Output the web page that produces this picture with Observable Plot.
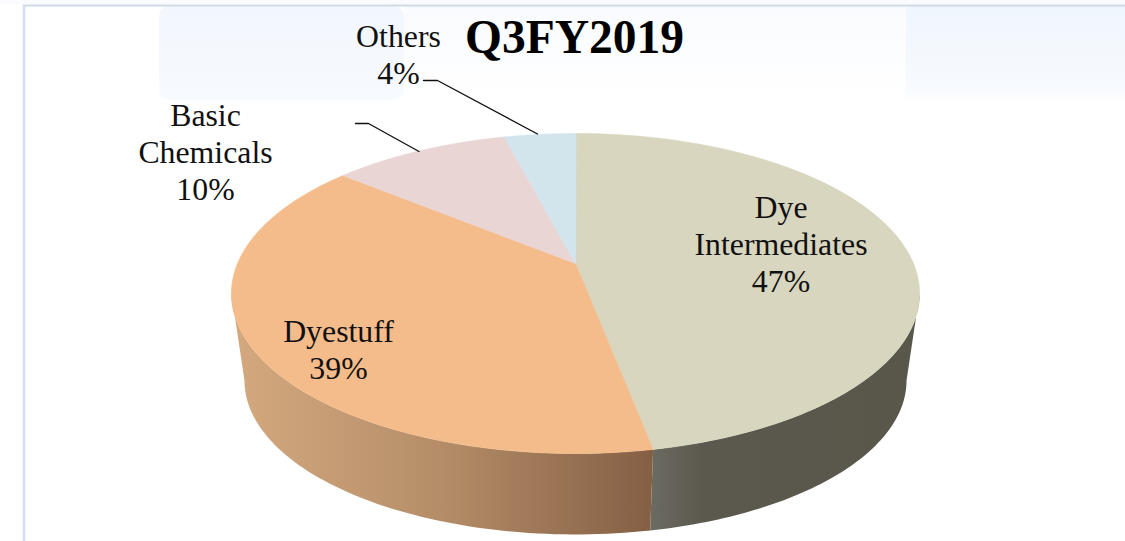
<!DOCTYPE html>
<html>
<head>
<meta charset="utf-8">
<script src="https://cdn.jsdelivr.net/npm/d3@7"></script>
<script src="https://cdn.jsdelivr.net/npm/@observablehq/plot@0.6"></script>
<style>
  html, body { margin: 0; padding: 0; background: #fff; overflow: hidden; }
  svg { display: block; }
</style>
</head>
<body>
<div id="chart"></div>
<script>
// ---- chart values ----
const chartTitle = "Q3FY2019";
const categories = ["Dye Intermediates", "Dyestuff", "Basic Chemicals", "Others"];
const shares = [47, 39, 10, 4];
const labelTexts = ["Dye\nIntermediates\n47%", "Dyestuff\n39%", "Basic\nChemicals\n10%", "Others\n4%"];
const topColors = ["#d8d6bf", "#f5bc8b", "#ead5d5", "#d2e5ed"];

// ---- layout, separate from the values ----
const W = 1125, H = 541;
const centre = {x: 575, y: 263};          // where the wedges meet
const persp = {X: 338, Y: 154.4, k: 0.1875};
const rimCentreY = 293, wallDrop = 87, wallScale = 0.962;
const labelX = [780.5, 338, 205, 398];
const labelY = [243, 348, 151, 53];
const titleAt = {x: 574, y: 37};
const leaders = [
  {id: "Basic", x: [355, 368, 418.5], y: [123, 123, 151]},
  {id: "Others", x: [423, 437, 537], y: [80, 80, 133.5]}
];
// pale slide artwork behind the chart
const roundedPanels = [{x1: 159, x2: 404, y1: 6, y2: 100}];
const flatPanels = [
  {x1: 404, x2: 906, y1: 6, y2: 100, fill: "url(#panelMiddle)"},
  {x1: 906, x2: 1125, y1: 6, y2: 102, fill: "url(#panelRight)"},
  {x1: 0, x2: 1125, y1: 0, y2: 4, fill: "#f9fbfe"}
];
const frameLeft = {x: 23.5, y1: 5, y2: 541, stroke: "#d3def5"};
const frameTop = {y: 5, x1: 23, x2: 1125, stroke: "#d0dae7"};

// ---- circle seen in perspective ----
function rim(theta) {
  const d = 1 + persp.k * Math.cos(theta);
  return {
    x: centre.x + persp.X * Math.sin(theta) / d,
    y: centre.y - persp.Y * Math.cos(theta) / d
  };
}
function lowerRim(theta) {
  const p = rim(theta);
  return {
    x: centre.x + wallScale * (p.x - centre.x),
    y: rimCentreY + wallDrop + wallScale * (p.y - rimCentreY)
  };
}
const arcSteps = (a, b) => d3.range(0, 73).map(i => a + (b - a) * i / 72);

const arcs = d3.pie().sort(null).startAngle(0).endAngle(2 * Math.PI)(shares);

const wedgeRows = arcs.flatMap((s, i) => [
  {slice: categories[i], ...centre},
  ...arcSteps(s.startAngle, s.endAngle).map(t => ({slice: categories[i], ...rim(t)}))
]);

// Visible front of the wall runs between the two side tangents of the rim.
const sideAngle = Math.acos(-persp.k);
const seam = arcs[0].endAngle;
const wallRows = (a, b) => [
  ...arcSteps(a, b).map(rim),
  ...arcSteps(b, a).map(lowerRim)
];

const gradient = (id, stops, vertical) => () => {
  const g = d3.create("svg:defs");
  const lg = g.append("linearGradient").attr("id", id);
  if (vertical) lg.attr("x2", 0).attr("y2", 1);
  stops.forEach(([o, c]) => lg.append("stop").attr("offset", o).attr("stop-color", c));
  return g.node();
};

const labelRows = categories.map((c, i) => ({text: labelTexts[i], x: labelX[i], y: labelY[i]}));
const serif = "'Liberation Serif', 'Times New Roman', serif";
const sliceColor = d => topColors[categories.indexOf(d.slice)];

const chart = Plot.plot({
  width: W, height: H, margin: 0,
  style: {background: "#fff"},
  x: {domain: [0, W], range: [0, W], axis: null},
  y: {domain: [0, H], range: [0, H], axis: null},
  marks: [
    gradient("wallOrange", [[0, "#d4a97f"], [0.5, "#b48d68"], [1, "#845f44"]]),
    gradient("wallGrey", [[0, "#6c6b61"], [0.2, "#5b584e"], [1, "#59564a"]]),
    gradient("panelRight", [[0, "#eff6fd"], [0.85, "#f7fafe"], [1, "#ffffff"]], true),
    gradient("panelMiddle", [[0, "#f9fbfe"], [1, "#ffffff"]], true),
    gradient("panelLeft", [[0, "#f2f7fe"], [1, "#f7fafe"]], true),
    Plot.rect(flatPanels, {x1: "x1", x2: "x2", y1: "y1", y2: "y2", fill: d => d.fill}),
    Plot.rect(roundedPanels, {x1: "x1", x2: "x2", y1: "y1", y2: "y2", fill: "url(#panelLeft)", rx: 10}),
    Plot.ruleX([frameLeft], {x: "x", y1: "y1", y2: "y2", stroke: "stroke", strokeWidth: 2.5}),
    Plot.ruleY([frameTop], {y: "y", x1: "x1", x2: "x2", stroke: "stroke", strokeWidth: 2}),
    Plot.line(wallRows(seam, sideAngle), {x: "x", y: "y", fill: "url(#wallGrey)", stroke: "none", curve: "linear-closed"}),
    Plot.line(wallRows(seam, 2 * Math.PI - sideAngle), {x: "x", y: "y", fill: "url(#wallOrange)", stroke: "none", curve: "linear-closed"}),
    Plot.line(wedgeRows, {x: "x", y: "y", z: "slice", fill: sliceColor, stroke: sliceColor, strokeWidth: 0.6, curve: "linear-closed"}),
    Plot.line(leaders.flatMap(l => l.x.map((x, i) => ({id: l.id, x, y: l.y[i]}))), {x: "x", y: "y", z: "id", stroke: "#111", strokeWidth: 1.4}),
    Plot.text(labelRows, {x: "x", y: "y", text: "text", fontFamily: serif, fontSize: 31.8, lineHeight: 1.163, fill: "#111"}),
    Plot.text([chartTitle], {x: [titleAt.x], y: [titleAt.y], text: d => d, fontFamily: serif, fontWeight: "bold", fontSize: 47.5, fill: "#000"})
  ]
});
document.getElementById("chart").append(chart);
</script>
</body>
</html>
